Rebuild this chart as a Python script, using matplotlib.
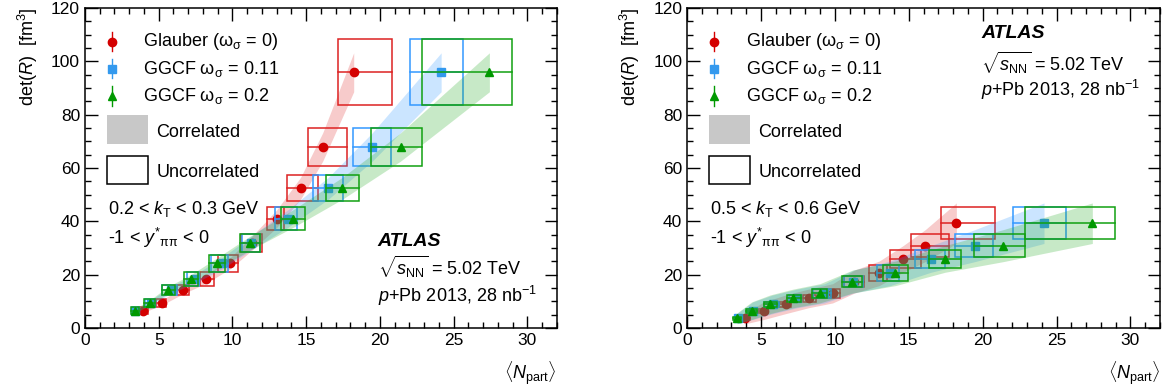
import numpy as np
import matplotlib
matplotlib.use('Agg')
import matplotlib.pyplot as plt
from matplotlib.patches import Rectangle

plt.rcParams['font.family'] = ['Liberation Sans', 'DejaVu Sans']
plt.rcParams['mathtext.fontset'] = 'custom'
plt.rcParams['mathtext.rm'] = 'Liberation Sans'
plt.rcParams['mathtext.it'] = 'Liberation Sans:italic'
plt.rcParams['mathtext.bf'] = 'Liberation Sans:bold'

# <N_part> per centrality bin for each model (same in both kT bins)
npart_glauber = [3.95, 5.2, 6.68, 8.22, 9.85, 11.32, 13.0, 14.62, 16.12, 18.22]
npart_ggcf011 = [3.42, 4.45, 5.8, 7.45, 9.3, 11.25, 13.75, 16.5, 19.48, 24.15]
npart_ggcf02 = [3.37, 4.38, 5.62, 7.18, 8.98, 11.18, 14.1, 17.45, 21.4, 27.42]

# uncorrelated box extent in <N_part>
box_lo_glauber = [3.62, 4.83, 6.22, 7.82, 9.05, 10.6, 12.33, 13.73, 15.15, 17.18]
box_hi_glauber = [4.28, 5.5, 7.02, 8.72, 10.35, 11.98, 13.52, 15.83, 17.75, 20.84]
box_lo_ggcf011 = [3.16, 4.07, 5.24, 6.9, 8.52, 10.62, 12.88, 15.44, 18.15, 22.05]
box_hi_ggcf011 = [3.68, 4.75, 6.21, 7.7, 9.72, 11.9, 14.35, 17.47, 20.73, 25.65]
box_lo_ggcf02 = [3.12, 4.02, 5.24, 6.73, 8.43, 10.5, 13.29, 16.34, 19.39, 22.87]
box_hi_ggcf02 = [3.68, 4.75, 6.1, 7.68, 9.49, 11.86, 14.92, 18.56, 22.85, 28.97]

# det(R) [fm^3], 0.2 < kT < 0.3 GeV
detr_kt1 = [6.5, 9.5, 14.2, 18.4, 24.3, 31.8, 41.0, 52.4, 67.9, 95.9]
unc_kt1 = [1.2, 1.5, 2.0, 2.5, 3.2, 3.3, 4.4, 4.9, 7.0, 12.3]
cor_kt1 = [0.7, 0.9, 1.3, 1.6, 2.1, 2.6, 3.3, 4.1, 5.3, 7.3]

# det(R) [fm^3], 0.5 < kT < 0.6 GeV
detr_kt2 = [3.6, 6.5, 8.9, 11.1, 13.0, 17.4, 20.5, 25.9, 30.9, 39.3]
unc_kt2 = [0.6, 0.8, 1.0, 1.2, 1.6, 2.2, 3.0, 3.5, 4.3, 6.1]
cor_kt2 = [2.0, 3.3, 3.5, 3.5, 3.6, 4.3, 4.6, 5.0, 6.0, 7.6]

models = [
    ('Glauber (ω$_{\\mathrm{σ}}$ = 0)', npart_glauber, box_lo_glauber, box_hi_glauber,
     'o', '#d40000', '#dd2222', '#e03030'),
    ('GGCF ω$_{\\mathrm{σ}}$ = 0.11', npart_ggcf011, box_lo_ggcf011, box_hi_ggcf011,
     's', '#3399ee', '#3399ff', '#3399ff'),
    ('GGCF ω$_{\\mathrm{σ}}$ = 0.2', npart_ggcf02, box_lo_ggcf02, box_hi_ggcf02,
     '^', '#009900', '#11a011', '#22aa22'),
]

fig = plt.figure(figsize=(11.72, 3.91), dpi=100)
ax1 = fig.add_axes([0.0725, 0.1611, 0.4027, 0.8184])
ax2 = fig.add_axes([0.5862, 0.1611, 0.4036, 0.8184])

FS = 13


def draw_panel(ax, detr, unc, cor):
    y = np.array(detr)
    dy = np.array(unc)
    dc = np.array(cor)
    # each model drawn on top of the previous one (band, boxes, markers)
    for k, (label, x, blo, bhi, mk, mc, bc, fc) in enumerate(models):
        z = 1 + 3 * k
        x = np.array(x)
        ax.fill_between(x, y - dc, y + dc, color=fc, alpha=0.25, lw=0, zorder=z)
        for xi, yi, lo, hi, e in zip(x, y, blo, bhi, dy):
            ax.add_patch(Rectangle((lo, yi - e), hi - lo, 2 * e, fill=False,
                                   ec=bc, lw=1.1, zorder=z + 1))
            ax.plot([lo, hi], [yi, yi], color=bc, lw=1.1, zorder=z + 1)
        ax.plot(x, y, ls='none', marker=mk, ms=6, color=mc, mec=mc, zorder=z + 2)

    ax.set_xlim(0, 32)
    ax.set_ylim(0, 120)
    ax.set_xticks(np.arange(0, 31, 5))
    ax.set_xticks(np.arange(0, 33, 1), minor=True)
    ax.set_yticks(np.arange(0, 121, 20))
    ax.set_yticks(np.arange(0, 121, 5), minor=True)
    ax.tick_params(which='both', direction='in', top=True, right=True,
                   labelsize=FS - 0.5, width=1)
    ax.tick_params(which='major', length=9)
    ax.tick_params(which='minor', length=4.5)
    for s in ax.spines.values():
        s.set_linewidth(1.1)
        s.set_zorder(20)
    ax.set_ylabel(r'det($R$)  [fm$^{3}$]', fontsize=FS, loc='top', labelpad=8)
    ax.set_xlabel(r'$\langle N_{\mathrm{part}}\rangle$', fontsize=FS, loc='right',
                  labelpad=8)

    # legend
    tr = ax.transAxes
    rows = [0.895, 0.81, 0.725]
    for (label, x, blo, bhi, mk, mc, bc, fc), ry in zip(models, rows):
        ax.plot([0.057], [ry], marker=mk, ms=6, color=mc, transform=tr, zorder=30)
        ax.plot([0.057, 0.057], [ry - 0.03, ry + 0.03], color=mc, lw=1,
                transform=tr, zorder=30)
        ax.text(0.124, ry, label, transform=tr, fontsize=FS, va='center')
    ax.add_patch(Rectangle((0.046, 0.575), 0.088, 0.09, transform=tr,
                           color='#c8c8c8', lw=0))
    ax.text(0.151, 0.612, 'Correlated', transform=tr, fontsize=FS, va='center')
    ax.add_patch(Rectangle((0.046, 0.45), 0.088, 0.087, transform=tr,
                           fill=False, ec='black', lw=1.1))
    ax.text(0.151, 0.487, 'Uncorrelated', transform=tr, fontsize=FS, va='center')


draw_panel(ax1, detr_kt1, unc_kt1, cor_kt1)
draw_panel(ax2, detr_kt2, unc_kt2, cor_kt2)

ylab = r'-1 < $y^{*}{}_{\mathrm{ππ}}$ < 0'

ax1.text(0.048, 0.372, r'0.2 < $k_{\mathrm{T}}$ < 0.3 GeV', transform=ax1.transAxes,
         fontsize=FS, va='center')
ax1.text(0.048, 0.28, ylab, transform=ax1.transAxes, fontsize=FS, va='center')
ax1.text(0.62, 0.27, 'ATLAS', transform=ax1.transAxes, fontsize=FS + 1,
         fontweight='bold', style='italic', va='center')
ax1.text(0.62, 0.19, r'$\sqrt{s_{\mathrm{NN}}}$ = 5.02 TeV', transform=ax1.transAxes,
         fontsize=FS, va='center')
ax1.text(0.62, 0.10, r'$p$+Pb 2013, 28 nb$^{\mathrm{-1}}$', transform=ax1.transAxes,
         fontsize=FS, va='center')

ax2.text(0.048, 0.372, r'0.5 < $k_{\mathrm{T}}$ < 0.6 GeV', transform=ax2.transAxes,
         fontsize=FS, va='center')
ax2.text(0.048, 0.28, ylab, transform=ax2.transAxes, fontsize=FS, va='center')
ax2.text(0.622, 0.92, 'ATLAS', transform=ax2.transAxes, fontsize=FS + 1,
         fontweight='bold', style='italic', va='center')
ax2.text(0.622, 0.83, r'$\sqrt{s_{\mathrm{NN}}}$ = 5.02 TeV', transform=ax2.transAxes,
         fontsize=FS, va='center')
ax2.text(0.622, 0.745, r'$p$+Pb 2013, 28 nb$^{\mathrm{-1}}$', transform=ax2.transAxes,
         fontsize=FS, va='center')

fig.savefig('out.png', dpi=100, facecolor='white')
